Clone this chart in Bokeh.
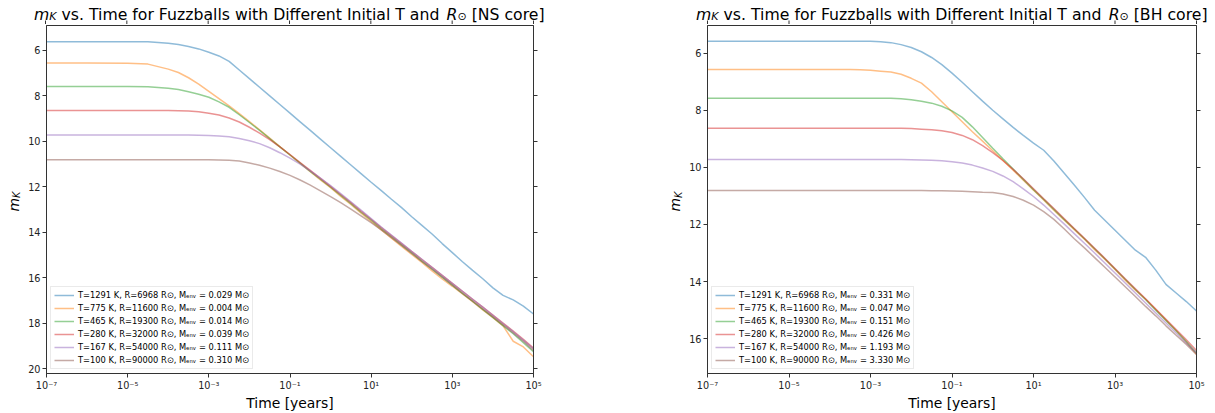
import math
from bokeh.plotting import figure
from bokeh.models import (FixedTicker, CustomJSTickFormatter, LinearAxis,
                          Legend, LegendItem, Label, Range1d)
from bokeh.layouts import row, column
from bokeh.embed import file_html
from bokeh.resources import INLINE

# ---------------- data ----------------
LOG_T = [-7, -6, -5, -4.5, -4, -3.75, -3.5, -3.25, -3, -2.75, -2.5, -2.25, -2, -1.75,
         -1.5, -1.25, -1, -0.75, -0.5, -0.25, 0, 0.25, 0.5, 0.75, 1, 1.25, 1.5, 1.75,
         2, 2.25, 2.5, 2.75, 3, 3.25, 3.5, 3.75, 4, 4.25, 4.5, 4.75, 5]
TIME_YR = [10.0 ** e for e in LOG_T]

TEMPS = [1291, 775, 465, 280, 167, 100]
RADII = [6968, 11600, 19300, 32000, 54000, 90000]
MENV_NS = ["0.029", "0.004", "0.014", "0.039", "0.111", "0.310"]
MENV_BH = ["0.331", "0.047", "0.151", "0.426", "1.193", "3.330"]

NS_T1291 = [5.61, 5.61, 5.61, 5.62, 5.68, 5.74, 5.82, 5.93, 6.08, 6.24, 6.48, 6.86, 7.24, 7.62,
            8.0, 8.38, 8.76, 9.14, 9.52, 9.9, 10.28, 10.66, 11.04, 11.42, 11.8, 12.17, 12.55, 12.92,
            13.32, 13.7, 14.08, 14.5, 14.9, 15.3, 15.68, 16.05, 16.45, 16.78, 16.98, 17.25, 17.6]
NS_T775 = [6.55, 6.55, 6.56, 6.6, 6.82, 6.97, 7.2, 7.48, 7.8, 8.12, 8.44, 8.78, 9.13, 9.49,
           9.86, 10.23, 10.6, 10.97, 11.33, 11.7, 12.04, 12.42, 12.78, 13.16, 13.52, 13.9, 14.26, 14.62,
           14.98, 15.33, 15.7, 16.06, 16.38, 16.72, 17.06, 17.42, 17.76, 18.12, 18.8, 19.05, 19.48]
NS_T465 = [7.59, 7.59, 7.59, 7.6, 7.66, 7.72, 7.82, 7.93, 8.06, 8.26, 8.5, 8.83, 9.17, 9.52,
           9.88, 10.24, 10.6, 10.96, 11.32, 11.67, 12.02, 12.38, 12.74, 13.12, 13.47, 13.85, 14.2, 14.56,
           14.91, 15.27, 15.62, 15.98, 16.33, 16.69, 17.04, 17.4, 17.75, 18.11, 18.47, 18.86, 19.26]
NS_T280 = [8.64, 8.64, 8.64, 8.64, 8.64, 8.65, 8.66, 8.7, 8.76, 8.84, 8.97, 9.15, 9.38, 9.64,
           9.92, 10.24, 10.58, 10.93, 11.28, 11.63, 11.98, 12.34, 12.7, 13.07, 13.43, 13.8, 14.15, 14.5,
           14.85, 15.2, 15.55, 15.9, 16.25, 16.6, 16.95, 17.3, 17.65, 18.0, 18.35, 18.72, 19.1]
NS_T167 = [9.72, 9.72, 9.72, 9.72, 9.72, 9.72, 9.72, 9.73, 9.74, 9.76, 9.8, 9.87, 9.97, 10.1,
           10.28, 10.5, 10.74, 11.0, 11.3, 11.62, 11.95, 12.3, 12.66, 13.03, 13.4, 13.77, 14.13, 14.48,
           14.84, 15.19, 15.55, 15.9, 16.25, 16.6, 16.95, 17.3, 17.66, 18.02, 18.38, 18.75, 19.13]
NS_T100 = [10.81, 10.81, 10.81, 10.81, 10.81, 10.81, 10.81, 10.81, 10.81, 10.82, 10.83, 10.87, 10.95, 11.05,
           11.18, 11.33, 11.5, 11.7, 11.93, 12.18, 12.43, 12.7, 12.98, 13.28, 13.58, 13.9, 14.24, 14.58,
           14.93, 15.28, 15.63, 15.98, 16.33, 16.68, 17.03, 17.38, 17.73, 18.08, 18.43, 18.8, 19.2]

BH_T1291 = [5.58, 5.58, 5.58, 5.58, 5.58, 5.58, 5.58, 5.58, 5.58, 5.6, 5.63, 5.7, 5.8, 5.95,
            6.15, 6.4, 6.7, 7.02, 7.35, 7.68, 8.0, 8.3, 8.6, 8.88, 9.15, 9.4, 9.78, 10.2,
            10.62, 11.05, 11.5, 11.85, 12.2, 12.55, 12.9, 13.15, 13.6, 14.1, 14.4, 14.7, 15.03]
BH_T775 = [6.57, 6.57, 6.57, 6.57, 6.57, 6.57, 6.57, 6.58, 6.6, 6.63, 6.66, 6.74, 6.88, 7.05,
           7.35, 7.7, 8.05, 8.4, 8.75, 9.08, 9.42, 9.76, 10.1, 10.45, 10.8, 11.14, 11.5, 11.84,
           12.18, 12.52, 12.88, 13.22, 13.58, 13.95, 14.3, 14.62, 14.98, 15.35, 15.72, 16.12, 16.55]
BH_T465 = [7.58, 7.58, 7.58, 7.58, 7.58, 7.58, 7.58, 7.58, 7.58, 7.58, 7.58, 7.6, 7.63, 7.68,
           7.75, 7.86, 8.02, 8.25, 8.58, 8.95, 9.33, 9.7, 10.06, 10.42, 10.78, 11.12, 11.47, 11.82,
           12.16, 12.5, 12.85, 13.2, 13.56, 13.92, 14.28, 14.63, 15.0, 15.36, 15.72, 16.1, 16.5]
BH_T280 = [8.63, 8.63, 8.63, 8.63, 8.63, 8.63, 8.63, 8.63, 8.63, 8.63, 8.63, 8.63, 8.64, 8.66,
           8.68, 8.72, 8.78, 8.88, 9.03, 9.24, 9.48, 9.76, 10.07, 10.4, 10.75, 11.1, 11.44, 11.79,
           12.14, 12.48, 12.83, 13.18, 13.54, 13.9, 14.25, 14.6, 14.96, 15.32, 15.68, 16.04, 16.42]
BH_T167 = [9.72, 9.72, 9.72, 9.72, 9.72, 9.72, 9.72, 9.72, 9.72, 9.72, 9.72, 9.72, 9.73, 9.74,
           9.75, 9.77, 9.8, 9.85, 9.92, 10.02, 10.14, 10.3, 10.5, 10.75, 11.02, 11.32, 11.65, 11.98,
           12.32, 12.66, 13.0, 13.35, 13.7, 14.05, 14.4, 14.75, 15.1, 15.45, 15.8, 16.15, 16.5]
BH_T100 = [10.81, 10.81, 10.81, 10.81, 10.81, 10.81, 10.81, 10.81, 10.81, 10.81, 10.81, 10.81, 10.81, 10.81,
           10.82, 10.82, 10.83, 10.84, 10.85, 10.87, 10.88, 10.93, 11.02, 11.15, 11.32, 11.55, 11.82, 12.15,
           12.5, 12.82, 13.16, 13.5, 13.84, 14.18, 14.52, 14.87, 15.2, 15.55, 15.88, 16.2, 16.55]

X_TICKS = [1e-7, 1e-5, 1e-3, 1e-1, 1e1, 1e3, 1e5]
X_LIM = (1e-7, 1e5)
Y_TICKS_NS = [6, 8, 10, 12, 14, 16, 18, 20]
Y_TICKS_BH = [6, 8, 10, 12, 14, 16]

COLORS = ["#1f77b4", "#ff7f0e", "#2ca02c", "#d62728", "#9467bd", "#8c564b"]
FONT = "DejaVu Sans"
AXCOL = "#333333"

W = {' ': 651, '.': 651, ',': 651, '[': 799, ']': 799, 'a': 1255, 'b': 1300, 'c': 1126,
     'd': 1300, 'e': 1260, 'f': 721, 'h': 1298, 'i': 569, 'l': 569, 'm': 1995, 'n': 1298,
     'o': 1253, 'r': 842, 's': 1067, 't': 803, 'u': 1298, 'v': 1212, 'w': 1675, 'z': 1075,
     'B': 1405, 'D': 1577, 'F': 1176, 'H': 1540, 'I': 604, 'K': 1343, 'N': 1532, 'R': 1423,
     'S': 1300, 'T': 1251, '⊙': 1716}


def tw(s, size):
    return sum(W.get(c, 1300) for c in s) / 2048.0 * size


SUP_JS = """
const sup = {"-": "\u207b", "0": "\u2070", "1": "\u00b9", "2": "\u00b2", "3": "\u00b3",
             "4": "\u2074", "5": "\u2075", "6": "\u2076", "7": "\u2077", "8": "\u2078", "9": "\u2079"};
const e = Math.round(Math.log10(tick));
return "10" + String(e).split("").map((c) => sup[c]).join("");
"""

TOTAL_H = 413
TITLE_H = 24
MAIN_H = TOTAL_H - TITLE_H
BASELINE_FIX = 4.5   # Label's "alphabetic" anchor lands lower than the true baseline


def style_axis(ax, label_size="9.7px"):
    ax.axis_line_color = AXCOL
    ax.axis_line_width = 1
    ax.major_tick_line_color = AXCOL
    ax.major_tick_in = 0
    ax.major_tick_out = 4
    ax.minor_tick_in = 0
    ax.minor_tick_out = 0
    ax.major_label_text_font = FONT
    ax.major_label_text_font_size = label_size
    ax.major_label_text_color = "#222222"
    ax.major_label_standoff = 2


def blank_fig(w, h, **kw):
    f = figure(width=w, height=h, output_backend="svg", toolbar_location=None, min_border=0,
               x_axis_location=None, y_axis_location=None, **kw)
    try:
        f.frame_align = False
    except Exception:
        pass
    try:
        f.title = None
    except Exception:
        f.title.text = ""
    f.outline_line_color = None
    f.grid.visible = False
    f.background_fill_color = "white"
    f.border_fill_color = "white"
    return f


def make_title(core, width, frame_left, frame_right):
    # the strip above a panel: title text plus the top tick marks of the axes box
    fw = frame_right - frame_left
    dec = math.log10(X_LIM[1]) - math.log10(X_LIM[0])
    ppd = fw / dec
    lo = 10 ** (math.log10(X_LIM[0]) - frame_left / ppd)
    hi = 10 ** (math.log10(X_LIM[1]) + (width - frame_right) / ppd)
    f = blank_fig(width, TITLE_H, x_axis_type="log", x_range=Range1d(lo, hi),
                  y_range=Range1d(0, TITLE_H))
    f.segment(x0=X_TICKS, y0=[0] * len(X_TICKS), x1=X_TICKS, y1=[4] * len(X_TICKS),
              line_color=AXCOL, line_width=1)

    TS = 15.7
    SS = TS * 0.7
    pieces = [("m", TS, "italic", 0), ("K", SS, "italic", -2.2),
              (" vs. Time for Fuzzballs with Different Initial T and ", TS, "normal", 0),
              ("R", TS, "italic", 0), ("⊙", SS, "normal", -2.2),
              (f" [{core} core]", TS, "normal", 0)]
    total = sum(tw(t, s) for t, s, _, _ in pieces)
    x = (frame_left + frame_right) / 2.0 - total / 2.0
    base = TITLE_H - 18.5 + BASELINE_FIX
    for t, s, st, dy in pieces:
        lead = len(t) - len(t.lstrip(" "))
        x += tw(" " * lead, s)
        txt = t.strip(" ")
        f.add_layout(Label(x=x, y=base + dy, x_units="screen", y_units="screen",
                           text=txt, text_font=FONT, text_font_size=f"{s:.1f}px",
                           text_font_style=st, text_color="black",
                           text_baseline="alphabetic", text_align="left"))
        x += tw(txt, s)
        trail = len(t) - len(t.rstrip(" "))
        x += tw(" " * trail, s)
    return f


def make_ylabel(width, base_x, y_start_from_top):
    f = blank_fig(width, MAIN_H, x_range=Range1d(0, 1), y_range=Range1d(0, 1))
    YS = 13.9
    y0 = MAIN_H - (y_start_from_top - TITLE_H)
    f.add_layout(Label(x=base_x, y=y0, x_units="screen", y_units="screen", angle=math.pi / 2,
                       text="m", text_font=FONT, text_font_size=f"{YS}px", text_font_style="italic",
                       text_color="black", text_baseline="alphabetic", text_align="left"))
    f.add_layout(Label(x=base_x + 3.2, y=y0 + tw("m", YS), x_units="screen", y_units="screen",
                       angle=math.pi / 2, text="K", text_font=FONT, text_font_size=f"{YS*0.7:.1f}px",
                       text_font_style="italic", text_color="black",
                       text_baseline="alphabetic", text_align="left"))
    return f


def make_main(series, menv, yr, yticks, width, bl, br):
    p = figure(width=width, height=MAIN_H, x_axis_type="log",
               x_range=Range1d(*X_LIM), y_range=Range1d(yr[0], yr[1]),
               output_backend="svg", toolbar_location=None,
               min_border_left=bl, min_border_right=br, min_border_top=1, min_border_bottom=37)
    p.outline_line_color = AXCOL
    p.outline_line_width = 1
    p.outline_line_alpha = 1.0
    p.xgrid.visible = False
    p.ygrid.visible = False
    p.background_fill_color = "white"
    p.border_fill_color = "white"

    items = []
    for s, c, T, R, M in zip(series, COLORS, TEMPS, RADII, menv):
        r = p.line(TIME_YR, s, line_color=c, line_alpha=0.5, line_width=1.5)
        items.append(LegendItem(label=f"T={T} K, R={R} R⊙, Mₑₙᵥ = {M} M⊙", renderers=[r]))

    xt = FixedTicker(ticks=X_TICKS, minor_ticks=[])
    yt = FixedTicker(ticks=yticks, minor_ticks=[])
    xa = p.xaxis[0]
    xa.ticker = xt
    xa.formatter = CustomJSTickFormatter(code=SUP_JS)
    style_axis(xa)
    xa.axis_label = "Time [years]"
    xa.axis_label_text_font = FONT
    xa.axis_label_text_font_size = "13.9px"
    xa.axis_label_text_font_style = "normal"
    xa.axis_label_text_color = "black"
    xa.axis_label_standoff = 1

    ya = p.yaxis[0]
    ya.ticker = yt
    style_axis(ya)

    right = LinearAxis(ticker=yt, formatter=CustomJSTickFormatter(code="return ''"))
    style_axis(right, "1px")
    right.major_label_standoff = 0
    p.add_layout(right, "right")

    legend = Legend(items=items, location="bottom_left",
                    label_text_font=FONT, label_text_font_size="8.3px", label_text_color="black",
                    glyph_width=20, glyph_height=10, label_height=10, label_standoff=4,
                    spacing=3, padding=3, margin=4,
                    border_line_color="#d5d5d5", border_line_width=1,
                    background_fill_color="white", background_fill_alpha=0.8)
    p.add_layout(legend)
    return p


# left panel (NS core): canvas x 0..607, frame x 45..533
t1 = make_title("NS", 607, 45, 533)
y1 = make_ylabel(25, 13.0, 211.0)
m1 = make_main([NS_T1291, NS_T775, NS_T465, NS_T280, NS_T167, NS_T100], MENV_NS,
               (20.22, 4.9), Y_TICKS_NS, 582, 20, 74)

# right panel (BH core): canvas x 607..1215, frame x 707..1196
t2 = make_title("BH", 608, 100, 589)
y2 = make_ylabel(77, 674.5 - 607, 211.0)
m2 = make_main([BH_T1291, BH_T775, BH_T465, BH_T280, BH_T167, BH_T100], MENV_BH,
               (17.22, 5.03), Y_TICKS_BH, 531, 23, 19)

layout = row(column(t1, row(y1, m1)), column(t2, row(y2, m2)))
open("out.html", "w").write(file_html(layout, INLINE))
